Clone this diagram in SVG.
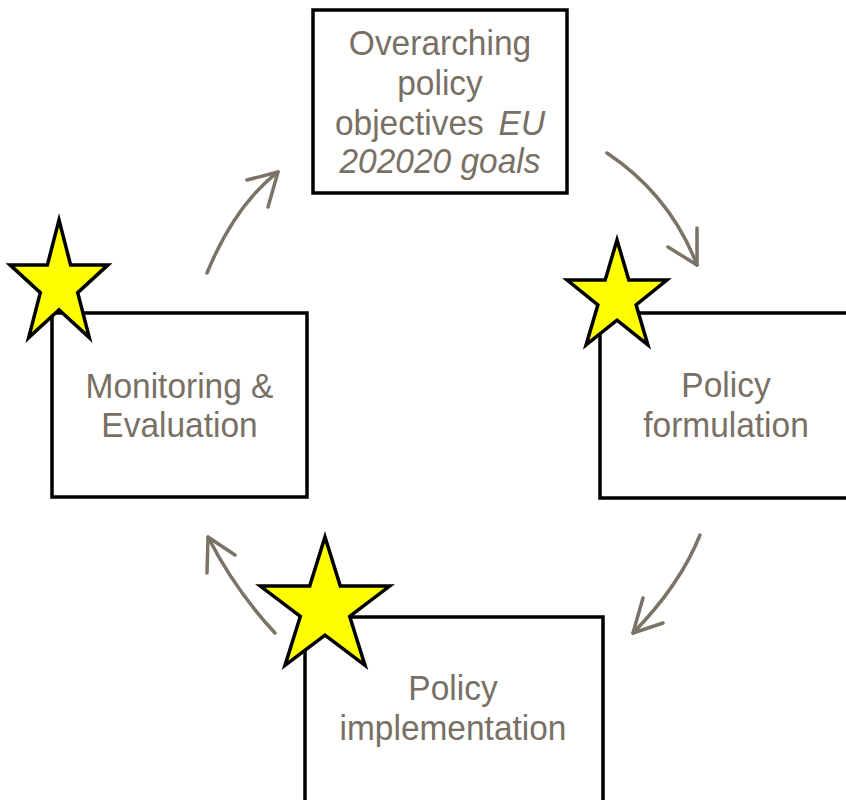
<svg xmlns="http://www.w3.org/2000/svg" width="846" height="800" viewBox="0 0 846 800">
<style>
.box{fill:#ffffff;stroke:#000000;stroke-width:3.5}
.star{fill:#ffff00;stroke:#000000;stroke-width:3.5;stroke-linejoin:miter}
.lbl{font-family:"Liberation Sans",Arial,sans-serif;font-size:36px;fill:#787064;text-anchor:middle}
.it{font-style:italic}
.arr{fill:none;stroke:#7a7366;stroke-width:3.5;stroke-linecap:round;stroke-linejoin:round}
</style>
<rect x="0" y="0" width="846" height="800" fill="#ffffff"/>
<g id="connectors">
<path class="arr" d="M207,273 Q235,205 278,172"/>
<path class="arr" d="M247,180 L278,172 L268,207"/>
<path class="arr" d="M607,153 Q670,195 697,265"/>
<path class="arr" d="M668,247 L697,265 L697,228"/>
<path class="arr" d="M700,535 Q680,585 633,633"/>
<path class="arr" d="M643,598 L633,633 L663,623"/>
<path class="arr" d="M275,633 Q235,590 208,537"/>
<path class="arr" d="M207,573 L208,537 L235,555"/>
</g>
<g id="objectives">
<rect class="box" x="313" y="10" width="254" height="183"/>
<g transform="translate(440 0) scale(0.93 1)">
<text class="lbl" x="0" y="55">Overarching</text>
<text class="lbl" x="0" y="95">policy</text>
<text class="lbl" x="0" y="135">objectives <tspan class="it" dx="6">EU</tspan></text>
<text class="lbl it" x="0" y="173">202020 goals</text>
</g>
</g>
<g id="monitoring">
<rect class="box" x="52" y="313" width="255" height="184"/>
<g transform="translate(179.5 0) scale(0.93 1)">
<text class="lbl" x="0" y="398">Monitoring &amp;</text>
<text class="lbl" x="0" y="437">Evaluation</text>
</g>
<polygon class="star" points="59,220 70.6,264.9 108,264.9 77.7,292.7 89.3,337.6 59,309.8 28.7,337.6 40.3,292.7 10,264.9 47.4,264.9"/>
</g>
<g id="formulation">
<rect class="box" x="600" y="313" width="260" height="185"/>
<g transform="translate(726 0) scale(0.93 1)">
<text class="lbl" x="0" y="397">Policy</text>
<text class="lbl" x="0" y="437">formulation</text>
</g>
<polygon class="star" points="617,240 628.8,280.1 666.9,280.1 636.1,304.8 647.9,344.9 617,320.2 586.1,344.9 597.9,304.8 567.1,280.1 605.2,280.1"/>
</g>
<g id="implementation">
<rect class="box" x="305" y="617" width="298" height="200"/>
<g transform="translate(453 0) scale(0.93 1)">
<text class="lbl" x="0" y="700">Policy</text>
<text class="lbl" x="0" y="740">implementation</text>
</g>
<polygon class="star" points="325,537 340.3,586.1 389.7,586.1 349.7,616.4 365,665.4 325,635.1 285,665.4 300.3,616.4 260.3,586.1 309.7,586.1"/>
</g>
</svg>
